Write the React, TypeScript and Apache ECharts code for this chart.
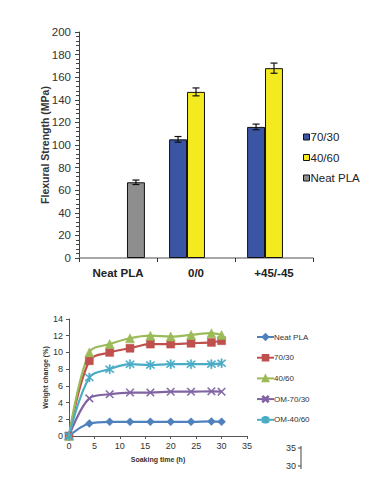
import React, { useEffect, useRef } from "react";
import * as echarts from "echarts";

// ---- Top chart data (Flexural strength) ----
const barCategories = ["Neat PLA", "0/0", "+45/-45"];
const s7030 = [null, 105, 116];
const s4060 = [null, 147, 168];
const sNeat = [67, null, null];
const e7030 = [0, 2.5, 2.5];
const e4060 = [0, 3.5, 4.5];
const eNeat = [2, 0, 0];
const barNames = ["70/30", "40/60", "Neat PLA"];
const barColors = ["#3A55A4", "#F4EA20", "#8E8E8E"];

// ---- Bottom chart data (Weight change) ----
const soakTimes = [0, 4, 8, 12, 16, 20, 24, 28, 30];
const wNeat = [0, 1.5, 1.7, 1.7, 1.7, 1.7, 1.7, 1.75, 1.7];
const w7030 = [0, 9.0, 10.0, 10.5, 11.0, 11.0, 11.1, 11.2, 11.4];
const w4060 = [0, 10.0, 11.0, 11.7, 12.0, 11.9, 12.1, 12.3, 12.1];
const wOM7030 = [0, 4.5, 5.0, 5.2, 5.2, 5.3, 5.3, 5.35, 5.3];
const wOM4060 = [0, 7.0, 8.0, 8.6, 8.5, 8.6, 8.6, 8.6, 8.7];
const lineNames = ["Neat PLA", "70/30", "40/60", "OM-70/30", "OM-40/60"];
const lineColors = ["#4F81BD", "#C0504D", "#9BBB59", "#8064A2", "#4BACC6"];

const fragmentLabels = ["35", "30"];

const X_SYM = "path://M0,1L1,0L5,4L9,0L10,1L6,5L10,9L9,10L5,6L1,10L0,9L4,5Z";
const AST_SYM =
  "path://M0,1L1,0L5,4L9,0L10,1L6,5L10,9L9,10L5,6L1,10L0,9L4,5Z M4.3,-1L5.7,-1L5.7,11L4.3,11Z";

const font = "Liberation Sans, Arial, sans-serif";

function buildTop(): any {
  const barVals = [s7030, s4060, sNeat];
  const barErrs = [e7030, e4060, eNeat];
  const errData: number[][] = [];
  barVals.forEach((vals, s) => {
    vals.forEach((v, i) => {
      if (v != null) errData.push([i, v - barErrs[s][i], v + barErrs[s][i], s]);
    });
  });
  return {
    animation: false,
    textStyle: { fontFamily: font },
    grid: { left: 79, right: 68, top: 32, bottom: 32 },
    legend: {
      data: barNames,
      orient: "vertical",
      left: 298,
      top: 126,
      icon: "rect",
      itemWidth: 6,
      itemHeight: 6,
      itemGap: 8.5,
      itemStyle: { borderColor: "#111", borderWidth: 1 },
      textStyle: { fontSize: 11.5, color: "#222", fontFamily: font, padding: [0, 0, 0, -4] },
    },
    xAxis: {
      type: "category",
      data: barCategories,
      axisLine: { lineStyle: { color: "#8a8a8a", width: 1.5 } },
      axisTick: { show: true, length: 4, lineStyle: { color: "#333" } },
      axisLabel: { fontSize: 11.5, fontWeight: "bold", color: "#222", margin: 9 },
    },
    yAxis: {
      type: "value",
      min: 0,
      max: 200,
      interval: 20,
      name: "Flexural Strength (MPa)",
      nameLocation: "middle",
      nameGap: 29,
      nameMoveOverlap: false,
      nameTextStyle: { fontSize: 10.5, fontWeight: "bold", color: "#333" },
      splitLine: { show: false },
      axisLine: { show: true, lineStyle: { color: "#444" } },
      axisTick: { show: true, length: 4, lineStyle: { color: "#444" } },
      minorTick: { show: true, splitNumber: 5, length: 3, lineStyle: { color: "#444" } },
      axisLabel: { fontSize: 11.5, color: "#333", margin: 8 },
    },
    series: [
      ...barNames.map((n, s) => ({
        name: n,
        type: "bar",
        data: barVals[s],
        barGap: "0%",
        barCategoryGap: "31%",
        itemStyle: { color: barColors[s], borderColor: "#111", borderWidth: 1 },
      })),
      {
        type: "custom",
        data: errData,
        z: 10,
        renderItem: (params: any, api: any) => {
          const cat = api.value(0);
          const lo = api.coord([cat, api.value(1)]);
          const hi = api.coord([cat, api.value(2)]);
          const slot = api.value(3);
          const band = api.size([1, 0])[0];
          const bw = (band * (1 - 0.31)) / 3;
          const x = lo[0] + (slot - 1) * bw;
          const cap = 3.5;
          const st = { stroke: "#111", lineWidth: 1.2 };
          return {
            type: "group",
            children: [
              { type: "line", shape: { x1: x, y1: lo[1], x2: x, y2: hi[1] }, style: st },
              { type: "line", shape: { x1: x - cap, y1: lo[1], x2: x + cap, y2: lo[1] }, style: st },
              { type: "line", shape: { x1: x - cap, y1: hi[1], x2: x + cap, y2: hi[1] }, style: st },
            ],
          };
        },
      },
    ],
  };
}

function buildBottom(): any {
  const lineData = [wNeat, w7030, w4060, wOM7030, wOM4060];
  const symbols = ["diamond", "rect", "triangle", X_SYM, AST_SYM];
  const symSizes = [8, 8, 9, 8, 9];
  return {
    animation: false,
    textStyle: { fontFamily: font },
    grid: { left: 69, right: 134, top: 29, bottom: 43 },
    legend: {
      data: lineNames,
      orient: "vertical",
      left: 251,
      top: 38,
      itemWidth: 17,
      itemHeight: 7,
      itemGap: 12.7,
      textStyle: { fontSize: 8, color: "#333", fontFamily: font, padding: [0, 0, 0, -5] },
    },
    xAxis: {
      type: "value",
      min: 0,
      max: 35,
      interval: 5,
      name: "Soaking time (h)",
      nameLocation: "middle",
      nameGap: 20,
      nameTextStyle: { fontSize: 7, fontWeight: "bold", color: "#333" },
      splitLine: { show: false },
      axisLine: { lineStyle: { color: "#555" } },
      axisTick: { show: true, length: 3, lineStyle: { color: "#555" } },
      axisLabel: { fontSize: 9, color: "#333", margin: 5 },
    },
    yAxis: {
      type: "value",
      min: 0,
      max: 14,
      interval: 2,
      name: "Weight change (%)",
      nameLocation: "middle",
      nameGap: 20,
      nameMoveOverlap: false,
      nameTextStyle: { fontSize: 7, fontWeight: "bold", color: "#333" },
      splitLine: { show: false },
      axisLine: { show: true, lineStyle: { color: "#555" } },
      axisTick: { show: true, length: 3, lineStyle: { color: "#555" } },
      axisLabel: { fontSize: 9, color: "#333", margin: 6 },
    },
    series: lineNames.map((n, s) => ({
      name: n,
      type: "line",
      smooth: 0.35,
      data: soakTimes.map((t, i) => [t, lineData[s][i]]),
      symbol: symbols[s],
      symbolSize: symSizes[s],
      showSymbol: true,
      lineStyle: { color: lineColors[s], width: 2.2 },
      itemStyle: { color: lineColors[s], borderColor: lineColors[s], borderWidth: 0.5 },
    })),
    graphic: [
      {
        type: "text",
        x: 296,
        y: 158,
        style: { text: fragmentLabels[0], fontSize: 9, fill: "#333", align: "right", verticalAlign: "middle", fontFamily: font },
      },
      {
        type: "text",
        x: 296,
        y: 176,
        style: { text: fragmentLabels[1], fontSize: 9, fill: "#333", align: "right", verticalAlign: "middle", fontFamily: font },
      },
      { type: "line", shape: { x1: 301, y1: 156, x2: 301, y2: 179 }, style: { stroke: "#444", lineWidth: 1 } },
      { type: "line", shape: { x1: 298, y1: 158, x2: 301, y2: 158 }, style: { stroke: "#444", lineWidth: 1 } },
      { type: "line", shape: { x1: 298, y1: 176, x2: 301, y2: 176 }, style: { stroke: "#444", lineWidth: 1 } },
    ],
  };
}

export default function App() {
  const topRef = useRef<HTMLDivElement>(null);
  const botRef = useRef<HTMLDivElement>(null);
  useEffect(() => {
    if (!topRef.current || !botRef.current) return;
    const c1 = echarts.init(topRef.current, null, { renderer: "svg" });
    const c2 = echarts.init(botRef.current, null, { renderer: "svg" });
    c1.setOption(buildTop());
    c2.setOption(buildBottom());
    return () => {
      c1.dispose();
      c2.dispose();
    };
  }, []);
  return (
    <div style={{ position: "absolute", left: 0, top: 0, width: 381, height: 479, background: "#fff" }}>
      <div ref={topRef} style={{ position: "absolute", left: 0, top: 0, width: 381, height: 290 }} />
      <div ref={botRef} style={{ position: "absolute", left: 0, top: 290, width: 381, height: 189 }} />
    </div>
  );
}
